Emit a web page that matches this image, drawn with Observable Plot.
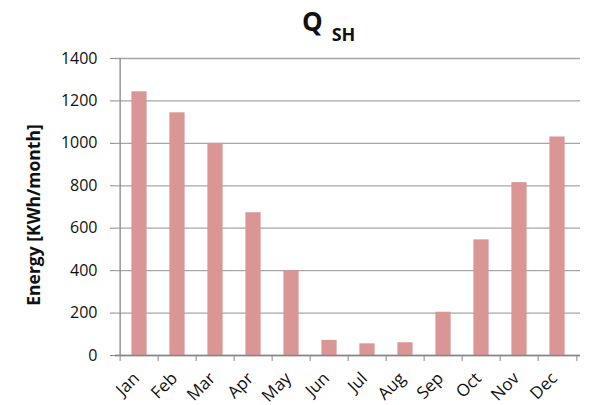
<!DOCTYPE html>
<html><head><meta charset="utf-8">
<script src="https://cdn.jsdelivr.net/npm/d3@7"></script>
<script src="https://cdn.jsdelivr.net/npm/@observablehq/plot@0.6"></script>
<style>
body{margin:0;background:#fff;font-family:"Open Sans",sans-serif;}
#wrap{position:relative;width:592px;height:405px;}
#title{position:absolute;left:302px;top:5px;font-size:26px;font-weight:bold;line-height:32px;color:#111;white-space:nowrap;}
#title span{font-size:18px;position:relative;top:10px;margin-left:9px;}
</style></head>
<body>
<div id="wrap"><div id="title">Q<span>SH</span></div></div>
<script>
const months = ["Jan","Feb","Mar","Apr","May","Jun","Jul","Aug","Sep","Oct","Nov","Dec"];
const energy = [1243, 1144, 1000, 673, 400, 71, 55, 60, 204, 545, 815, 1030];
const yTicks = [0, 200, 400, 600, 800, 1000, 1200, 1400];
const yLabel = "Energy [KWh/month]";

const data = months.map((m, i) => ({month: m, value: energy[i]}));
const half = (592 - 115 - 12) / 12 / 2;

const chart = Plot.plot({
  width: 592, height: 405,
  marginTop: 58, marginBottom: 50, marginLeft: 115, marginRight: 12,
  style: {fontFamily: "Open Sans", fontSize: "16px", color: "#111", background: "white"},
  x: {type: "band", domain: months, padding: 0, label: null},
  y: {domain: [0, 1400], label: null},
  marks: [
    Plot.gridY(yTicks, {stroke: "#a6a6a6", strokeOpacity: 1, strokeWidth: 1.3}),
    Plot.barY(data, {x: "month", y: "value", fill: "#D99694", insetLeft: 11.4, insetRight: 11.4}),
    Plot.ruleY([0], {stroke: "#868686", strokeWidth: 1.3}),
    Plot.ruleX([months[0]], {dx: -half, y1: 0, y2: 1400, stroke: "#868686", strokeWidth: 1.3}),
    Plot.axisY(yTicks, {tickSize: 5, tickPadding: 13, stroke: "#868686", fill: "#111", fontSize: 16, tickFormat: "d", label: null}),
    Plot.axisX({tickSize: 6, dx: -half, tickFormat: () => "", stroke: "#868686", label: null}),
    Plot.axisX([months[11]], {tickSize: 6, dx: half, tickFormat: () => "", stroke: "#868686", label: null}),
    Plot.axisX({tickSize: 0, tickRotate: -45, tickPadding: 20, dx: -3, fill: "#111", fontSize: 17, label: null}),
    Plot.text([yLabel], {frameAnchor: "left", textAnchor: "middle", rotate: -90, dx: -81, dy: 8, fontWeight: "bold", fontSize: 17.5, fill: "#111"})
  ]
});
document.getElementById("wrap").appendChild(chart);
</script>
</body></html>
